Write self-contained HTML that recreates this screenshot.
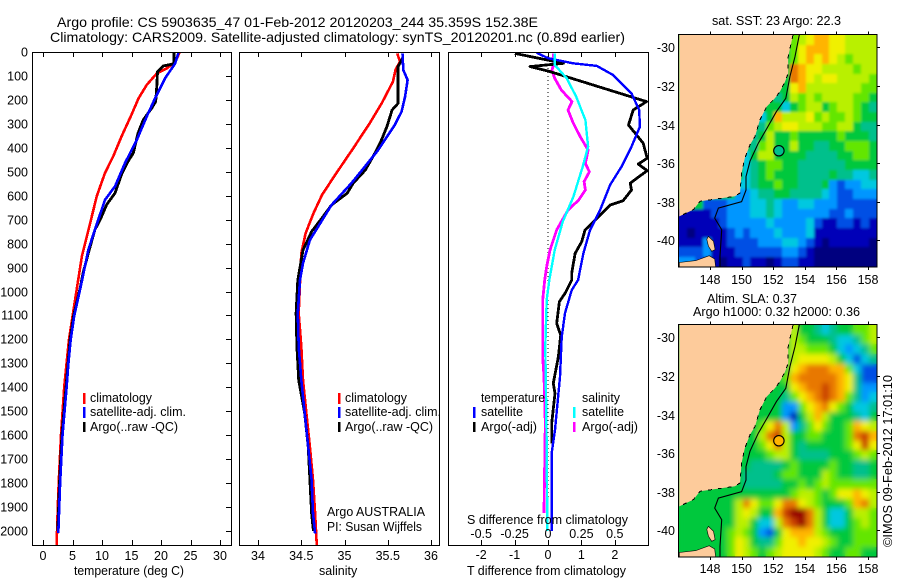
<!DOCTYPE html>
<html>
<head>
<meta charset="utf-8">
<title>Argo profile</title>
<style>
html,body{margin:0;padding:0;background:#fff;}
svg{display:block;font-family:"Liberation Sans",sans-serif;font-size:12.5px;fill:#000;}
</style>
</head>
<body>
<svg id="chart" xmlns="http://www.w3.org/2000/svg" width="900" height="580" viewBox="0 0 900 580">
<defs>
<clipPath id="clip-temp"><rect x="32" y="52" width="199" height="493"/></clipPath>
<clipPath id="clip-sal"><rect x="239" y="52" width="200" height="493"/></clipPath>
<clipPath id="clip-diff"><rect x="448" y="52" width="200" height="493"/></clipPath>
<clipPath id="clip-map1"><rect x="679" y="35" width="198" height="232"/></clipPath>
<clipPath id="clip-map2"><rect x="679" y="325" width="198" height="232"/></clipPath>
<filter id="soft-sst" x="-5%" y="-5%" width="110%" height="110%"><feGaussianBlur stdDeviation="1.2"/></filter>
<filter id="soft-sla" x="-5%" y="-5%" width="110%" height="110%"><feGaussianBlur stdDeviation="2.6"/></filter>
</defs>

<text x="57" y="27" font-size="14" textLength="481" lengthAdjust="spacingAndGlyphs">Argo profile: CS 5903635_47 01-Feb-2012 20120203_244 35.359S 152.38E</text>
<text x="50" y="42" font-size="14" textLength="575" lengthAdjust="spacingAndGlyphs">Climatology: CARS2009. Satellite-adjusted climatology: synTS_20120201.nc (0.89d earlier)</text>

<g id="temp-panel"></g>
<g id="sal-panel"></g>
<g id="diff-panel"></g>
<g id="map1"></g>
<g id="map2"></g>

<g>
<rect x="83" y="393" width="2.5" height="11" fill="#f00"/>
<rect x="83" y="407" width="2.5" height="11" fill="#00f"/>
<rect x="83" y="422" width="2.5" height="10" fill="#000"/>
<text x="90" y="402" textLength="62" lengthAdjust="spacingAndGlyphs">climatology</text>
<text x="90" y="416" textLength="96" lengthAdjust="spacingAndGlyphs">satellite-adj. clim.</text>
<text x="90" y="431" textLength="88" lengthAdjust="spacingAndGlyphs">Argo(..raw -QC)</text>
</g>
<g>
<rect x="338" y="393" width="2.5" height="11" fill="#f00"/>
<rect x="338" y="407" width="2.5" height="11" fill="#00f"/>
<rect x="338" y="422" width="2.5" height="10" fill="#000"/>
<text x="345" y="402" textLength="62" lengthAdjust="spacingAndGlyphs">climatology</text>
<text x="345" y="416" textLength="96" lengthAdjust="spacingAndGlyphs">satellite-adj. clim.</text>
<text x="345" y="431" textLength="88" lengthAdjust="spacingAndGlyphs">Argo(..raw -QC)</text>
<text x="327" y="516" textLength="98" lengthAdjust="spacingAndGlyphs">Argo AUSTRALIA</text>
<text x="327" y="531" textLength="95" lengthAdjust="spacingAndGlyphs">PI: Susan Wijffels</text>
</g>
<g>
<text x="481" y="402" textLength="64" lengthAdjust="spacingAndGlyphs">temperature</text>
<text x="582" y="402" textLength="38" lengthAdjust="spacingAndGlyphs">salinity</text>
<rect x="473" y="407" width="2.5" height="11" fill="#00f"/>
<rect x="473" y="422" width="2.5" height="10" fill="#000"/>
<rect x="573" y="407" width="2.5" height="11" fill="#0ff"/>
<rect x="573" y="422" width="2.5" height="10" fill="#f0f"/>
<text x="481" y="416" textLength="42" lengthAdjust="spacingAndGlyphs">satellite</text>
<text x="481" y="431" textLength="56" lengthAdjust="spacingAndGlyphs">Argo(-adj)</text>
<text x="582" y="416" textLength="42" lengthAdjust="spacingAndGlyphs">satellite</text>
<text x="582" y="431" textLength="56" lengthAdjust="spacingAndGlyphs">Argo(-adj)</text>
<text x="467" y="524" textLength="161" lengthAdjust="spacingAndGlyphs">S difference from climatology</text>
</g>

<text x="74" y="575" textLength="110" lengthAdjust="spacingAndGlyphs">temperature (deg C)</text>
<text x="319" y="575">salinity</text>
<text x="467" y="575" textLength="159" lengthAdjust="spacingAndGlyphs">T difference from climatology</text>

<text x="712" y="25" textLength="129" lengthAdjust="spacingAndGlyphs">sat. SST: 23 Argo: 22.3</text>
<text x="707" y="303" textLength="90" lengthAdjust="spacingAndGlyphs">Altim. SLA: 0.37</text>
<text x="693" y="316" textLength="167" lengthAdjust="spacingAndGlyphs">Argo h1000: 0.32 h2000: 0.36</text>
<text transform="translate(892,547) rotate(-90)" textLength="172" lengthAdjust="spacingAndGlyphs">©IMOS 09-Feb-2012 17:01:10</text>
</svg>

<script>
// ---------- profile axis tick labels ----------
const depthTicks = [0,100,200,300,400,500,600,700,800,900,1000,1100,1200,1300,1400,1500,1600,1700,1800,1900,2000];
const tempTicks = [0,5,10,15,20,25,30];
const salTicks = [34,34.5,35,35.5,36];
const diffTTicks = [-2,-1,0,1,2];
const diffSTicks = [-0.5,-0.25,0,0.25,0.5];
const diffSTickLabels = ['-0.5','-0.25','0','0.25','0.5'];

// ---------- temperature profiles ----------
const tempClimDepth = [0,40,68,89,137,193,262,353,436,505,603,714,853,978,1200,1400,1600,1800,1900,2060];
const tempClimValue = [23.2,22.4,21,19.3,17.6,16.2,15,13.3,11.9,10.5,9.1,8,6.6,5.8,4.4,3.6,3.05,2.66,2.5,2.3];
const tempSatDepth = [0,47,110,193,269,367,464,561,617,742,825,978,1100,1200,1300,1400,1600,1800,2008];
const tempSatValue = [23,22.4,20.7,19,17.6,15.9,13.9,12.2,10.5,8.8,7.7,6.4,5.3,4.7,4.3,4,3.3,2.9,2.6];
const tempArgoDepth = [0,47,51,58,82,137,207,235,283,339,422,457,512,589,637,700,742,839,922,985,1100,1200,1400,1600,1800,2000];
const tempArgoValue = [22.2,22.2,21.9,20.4,19.4,19.3,19.1,18.4,17,16.1,15.3,14.4,13.3,12.2,10.8,9.7,8.8,7.7,6.8,6.3,5.2,4.6,3.9,3.2,2.8,2.5];

// ---------- salinity profiles ----------
const salClimDepth = [6,40,75,124,214,298,402,514,597,674,757,841,924,1090,1230,1370,1509,1648,1787,1926,2060];
const salClimValue = [35.61,35.64,35.59,35.56,35.43,35.29,35.10,34.89,34.74,34.64,34.55,34.5,34.49,34.47,34.5,34.52,34.56,34.6,34.636,34.66,34.68];
const salSatDepth = [6,75,117,186,249,305,409,486,548,639,715,785,882,952,1090,1230,1370,1509,1648,1787,1926,2010];
const salSatValue = [35.67,35.68,35.73,35.7,35.66,35.58,35.39,35.22,35.08,34.85,34.72,34.6,34.52,34.486,34.46,34.47,34.5,34.54,34.58,34.62,34.636,34.66];
const salArgoDepth = [26,61,214,242,312,374,423,493,548,590,639,688,750,827,952,1090,1230,1370,1509,1648,1787,1926,2000];
const salArgoValue = [35.67,35.62,35.62,35.55,35.49,35.42,35.35,35.24,35.1,35.03,34.85,34.75,34.62,34.52,34.46,34.44,34.45,34.47,34.54,34.58,34.6,34.62,34.64];

// ---------- difference profiles ----------
const diffTSatDepth = [3,26,47,58,96,173,242,312,395,479,555,660,743,840,952,994,1090,1190,1357,1578,1674,2000];
const diffTSatValue = [-0.34,0,0.75,1.46,1.95,2.5,2.73,2.75,2.5,2.2,1.86,1.56,1.26,1.06,0.9,0.71,0.51,0.41,0.36,0.21,0.11,0.11];
const diffTArgoDepth = [6,47,61,82,207,242,305,381,444,468,495,548,576,621,639,709,743,792,841,924,952,1008,1042,1133,1182,1272,1383,1425,1550,1634];
const diffTArgoValue = [-0.99,0.46,-0.54,0.06,2.95,2.55,2.41,2.85,2.97,2.7,2.97,2.46,2.5,2.25,1.86,1.36,1.11,1.01,0.81,0.71,0.71,0.51,0.34,0.26,0.38,0.31,0.16,0.21,0.11,0.11];
const diffSSatDepth = [6,54,110,186,284,395,479,604,709,827,952,1035,1230,1425,1648,2000];
const diffSSatValue = [0.05,0.05,0.14,0.21,0.28,0.3,0.26,0.19,0.11,0.05,0.01,-0.01,-0.02,-0.015,-0.01,-0.005];
const diffSArgoDepth = [6,47,75,110,159,207,242,298,353,409,465,500,541,576,618,660,743,827,896,952,1035,1273,1357,1550,1925];
const diffSArgoValue = [0.04,0.045,0.03,0.05,0.1,0.18,0.15,0.19,0.24,0.3,0.28,0.31,0.27,0.28,0.23,0.15,0.065,0.015,-0.01,-0.025,-0.04,-0.04,-0.03,-0.02,-0.03];

// ---------- map data ----------
const lonTicks = [148,150,152,154,156,158];
const latTicks = [30,32,34,36,38,40];
const levelColors = ['#00007f','#0000b8','#0050e4','#0096ff','#00c8e0','#00c08c','#00c83c','#64e600','#b9f000','#f0f000','#ffb400','#e87800','#c83c00','#960000'];
// one row per half degree of latitude; each string is right-aligned to the east edge
const sstRows = [
 '789aa998888',
 '79aaa998888',
 '79a9a987888',
 'ba998888788',
 'ba989988887',
 '69a888888877',
 '5687878888776',
 '46788678' + '8765',
 '46a888978778766',
 '578998887788655',
 '5686676666676665',
 '5786686655667776',
 '46886666555566776',
 '45677665555556666',
 '45676665555655445',
 '445667665556323344',
 '334556655554322333',
 '6662223334454334433322222',
 '1111223334454333333223222',
 '1111123333343333421122121',
 '1011112323334333411111111',
 '1113112222333443210111110',
 '2223111222222332100000000',
 '3321101121101221100000000'
];
const slaRows = [
 '86654566778',
 '87666544578',
 '88777643457',
 '89999864245',
 '9abbbaa7422',
 '7abbbbba9522',
 '669abbcba9533',
 '66579abcba7534',
 '6663379ab976445',
 '66631' + '68a8666546',
 '679b835797667a98',
 '68bc866776667bca',
 '6679b8656666679c9',
 '66678865555666787',
 '65555676666766556',
 '655556776668766556',
 '655555667678777777',
 '6666666666666678876799a98',
 '66666668b9779bb9876667ab8',
 '666666689866acddb86446887',
 '6666666886448bcdb86446787',
 '66666678763269aaa87666777',
 '666666798655799a998766777',
 '6666667987678999987667766'
];
const sstCircleLevel = 5;
const slaCircleLevel = 10;
const floatLon = 152.36;
const floatLat = 35.36;
const coastLon = [153.25,152.95,152.95,152.75,152.43,152.11,151.59,151.16,150.85,150.53,150.2,150.0,149.9,149.58,147.37,146.95,146.06];
const coastLat = [29.36,30.48,31.34,31.78,32.29,32.64,33.07,33.76,34.62,35.05,35.74,36.52,37.55,37.72,37.98,38.41,38.76];
const tasmaniaLon = [146.06,147.1,147.95,148.3,148.36,146.06];
const tasmaniaLat = [41.15,41.05,40.8,40.97,41.4,41.4];
const flindersLon = [147.9,148.22,148.32,148.11,147.9,147.8];
const flindersLat = [39.8,40.05,40.48,40.57,40.3,39.95];
const shelfLon = [153.65,153.38,153.06,152.8,152.2,151.6,151.06,150.53,150.28,150.28,150.0,148.53,148.3,148.74,148.63,148.63];
const shelfLat = [29.36,30.48,31.52,32.64,33.33,34.2,34.97,35.9,36.7,37.4,38.0,38.33,38.85,39.45,40.83,41.4];

// ---------- scales ----------
const SVGNS = 'http://www.w3.org/2000/svg';
const topY = 52, botY = 545;
function depthY(d){ return topY + 0.2395*d; }
function tempX(t){ return 43 + 5.9*t; }
function salX(s){ return 258 + 86.5*(s-34); }
function diffTX(t){ return 548 + 33.4*t; }
function diffSX(s){ return 548 + 133.6*s; }
function lonX(lon){ return 710 + 15.8*(lon-148); }
function latY(lat, base){ return base + 19.3*(lat-30); }

function mk(parent, tag, attrs, txt){
  const el = document.createElementNS(SVGNS, tag);
  for (const k in attrs) el.setAttribute(k, attrs[k]);
  if (txt !== undefined) el.textContent = txt;
  parent.appendChild(el);
  return el;
}
function profilePoints(depths, values, xf){
  return depths.map(function(d,i){ return xf(values[i]).toFixed(1)+','+depthY(d).toFixed(1); }).join(' ');
}
function drawProfile(parent, depths, values, xf, color, width, clip, name){
  const el = mk(parent,'polyline',{points:profilePoints(depths,values,xf),fill:'none',stroke:color,'stroke-width':width,'clip-path':'url(#'+clip+')','shape-rendering':'crispEdges','stroke-linejoin':'round'});
  
  
}
function drawFrame(parent, x, w){
  const el = mk(parent,'rect',{x:x+0.5,y:topY+0.5,width:w,height:botY-topY,fill:'none',stroke:'#000','stroke-width':1,'shape-rendering':'crispEdges'});
  
  
}
function drawVTicks(parent, ticks, xf){
  ticks.forEach(function(t){
    const px = Math.round(xf(t))+0.5;
    const a = mk(parent,'line',{x1:px,x2:px,y1:topY,y2:topY+5,stroke:'#000','shape-rendering':'crispEdges'});
    
    
    const b = mk(parent,'line',{x1:px,x2:px,y1:botY-5,y2:botY,stroke:'#000','shape-rendering':'crispEdges'});
    
    
  });
}
function drawBottomLabels(parent, ticks, labels, xf, baseY){
  ticks.forEach(function(t,i){
    const el = mk(parent,'text',{x:xf(t),y:baseY,'text-anchor':'middle'},labels[i]);
    
    
  });
}

// ---------- temperature panel ----------
const tp = document.getElementById('temp-panel');
drawProfile(tp,tempClimDepth,tempClimValue,tempX,'#f00',2.6,'clip-temp','temperature-climatology-line');
drawProfile(tp,tempArgoDepth,tempArgoValue,tempX,'#000',2.8,'clip-temp','temperature-argo-line');
drawProfile(tp,tempSatDepth,tempSatValue,tempX,'#00f',2.6,'clip-temp','temperature-satellite-line');
drawFrame(tp,32,199);
drawVTicks(tp,tempTicks,tempX);
drawBottomLabels(tp,tempTicks,tempTicks.map(String),tempX,560);
depthTicks.forEach(function(d){
  const py = Math.round(depthY(d))+0.5;
  const lab = mk(tp,'text',{x:28,y:py+4,'text-anchor':'end'},String(d));
  
  
  if (d > 0) {
    const t = mk(tp,'line',{x1:226,x2:231,y1:py,y2:py,stroke:'#000','shape-rendering':'crispEdges'});
    
    
  }
});

// ---------- salinity panel ----------
const sp = document.getElementById('sal-panel');
drawProfile(sp,salClimDepth,salClimValue,salX,'#f00',2.6,'clip-sal','salinity-climatology-line');
drawProfile(sp,salArgoDepth,salArgoValue,salX,'#000',2.8,'clip-sal','salinity-argo-line');
drawProfile(sp,salSatDepth,salSatValue,salX,'#00f',2.6,'clip-sal','salinity-satellite-line');
drawFrame(sp,239,200);
drawVTicks(sp,salTicks,salX);
drawBottomLabels(sp,salTicks,salTicks.map(String),salX,560);

// ---------- difference panel ----------
const dp = document.getElementById('diff-panel');
const zeroLine = mk(dp,'line',{x1:diffTX(0),x2:diffTX(0),y1:topY,y2:depthY(2000),stroke:'#000','stroke-width':1,'stroke-dasharray':'1 3','shape-rendering':'crispEdges'});


drawProfile(dp,diffSArgoDepth,diffSArgoValue,diffSX,'#f0f',2.8,'clip-diff','salinity-argo-difference-line');
drawProfile(dp,diffTArgoDepth,diffTArgoValue,diffTX,'#000',2.8,'clip-diff','temperature-argo-difference-line');
drawProfile(dp,diffTSatDepth,diffTSatValue,diffTX,'#00f',2.4,'clip-diff','temperature-satellite-difference-line');
drawProfile(dp,diffSSatDepth,diffSSatValue,diffSX,'#0ff',2.4,'clip-diff','salinity-satellite-difference-line');
drawFrame(dp,448,200);
drawVTicks(dp,diffTTicks,diffTX);
drawBottomLabels(dp,diffTTicks,diffTTicks.map(String),diffTX,559);
drawBottomLabels(dp,diffSTicks,diffSTickLabels,diffSX,538);

// ---------- maps ----------
function polyPoints(lons, lats, base){
  return lons.map(function(lon,i){ return lonX(lon).toFixed(1)+','+latY(lats[i],base).toFixed(1); }).join(' ');
}
function drawMap(groupId, rows, base, clipId, circleLevel, labelBase, softId){
  const g = document.getElementById(groupId);
  const west = 146.06, north = 29.36, step = 0.5;
  const field = mk(g,'g',{'clip-path':'url(#'+clipId+')'});
  
  
  const cellGroup = mk(field,'g',{id:groupId+'-cells'});
  
  
  rows.forEach(function(row,j){
    const full = row.padStart(25,'6');
    for (let i = 0; i < full.length; i++) {
      const x0 = Math.round(lonX(west+step*i)), x1 = Math.round(lonX(west+step*(i+1)));
      const y0 = Math.round(latY(north+step*j,base)), y1 = Math.round(latY(north+step*(j+1),base));
      const cell = mk(cellGroup,'rect',{x:x0,y:y0,width:x1-x0,height:y1-y0,fill:levelColors[parseInt(full[i],16)],'shape-rendering':'crispEdges'});
      
      
    }
  });
  const soft = mk(field,'use',{href:'#'+groupId+'-cells',filter:'url(#'+softId+')'});
  
  
  const mainland = mk(g,'polygon',{points:polyPoints(coastLon.concat([146.06,153.25]),coastLat.concat([29.36,29.36]),base),fill:'#fdcb9b',stroke:'none','clip-path':'url(#'+clipId+')'});
  
  
  const coast = mk(g,'polyline',{points:polyPoints(coastLon,coastLat,base),fill:'none',stroke:'#000','stroke-width':1,'stroke-dasharray':'4 6','shape-rendering':'crispEdges','clip-path':'url(#'+clipId+')'});
  
  
  const tas = mk(g,'polygon',{points:polyPoints(tasmaniaLon,tasmaniaLat,base),fill:'#fdcb9b',stroke:'#000','stroke-width':0.6,'clip-path':'url(#'+clipId+')'});
  
  
  const fl = mk(g,'polygon',{points:polyPoints(flindersLon,flindersLat,base),fill:'#fdcb9b',stroke:'#000','stroke-width':0.6,'clip-path':'url(#'+clipId+')'});
  
  
  const shelf = mk(g,'polyline',{points:polyPoints(shelfLon,shelfLat,base),fill:'none',stroke:'#000','stroke-width':1.1,'clip-path':'url(#'+clipId+')'});
  
  
  const circle = mk(g,'circle',{cx:lonX(floatLon),cy:latY(floatLat,base),r:5.2,fill:levelColors[circleLevel],stroke:'#000','stroke-width':1.1});
  
  
  const frame = mk(g,'rect',{x:678.5,y:latY(north,base)-0.5,width:198.5,height:232.5,fill:'none',stroke:'#000','shape-rendering':'crispEdges'});
  
  
  const topEdge = latY(north,base)-0.5, botEdge = topEdge+232.5;
  lonTicks.forEach(function(lon){
    const px = Math.round(lonX(lon))+0.5;
    const a = mk(g,'line',{x1:px,x2:px,y1:topEdge-3,y2:topEdge,stroke:'#000','shape-rendering':'crispEdges'});
    
    
    const b = mk(g,'line',{x1:px,x2:px,y1:botEdge,y2:botEdge+3,stroke:'#000','shape-rendering':'crispEdges'});
    
    
    const lab = mk(g,'text',{x:lonX(lon),y:labelBase,'text-anchor':'middle'},String(lon));
    
    
  });
  latTicks.forEach(function(lat){
    const py = Math.round(latY(lat,base))+0.5;
    const t = mk(g,'line',{x1:877,x2:880,y1:py,y2:py,stroke:'#000','shape-rendering':'crispEdges'});
    
    
    const lab = mk(g,'text',{x:675,y:py+4.5,'text-anchor':'end'},'-'+lat);
    
    
  });
}
drawMap('map1',sstRows,47.3,'clip-map1',sstCircleLevel,284,'soft-sst');
drawMap('map2',slaRows,337.3,'clip-map2',slaCircleLevel,573,'soft-sla');
</script>
</body>
</html>
